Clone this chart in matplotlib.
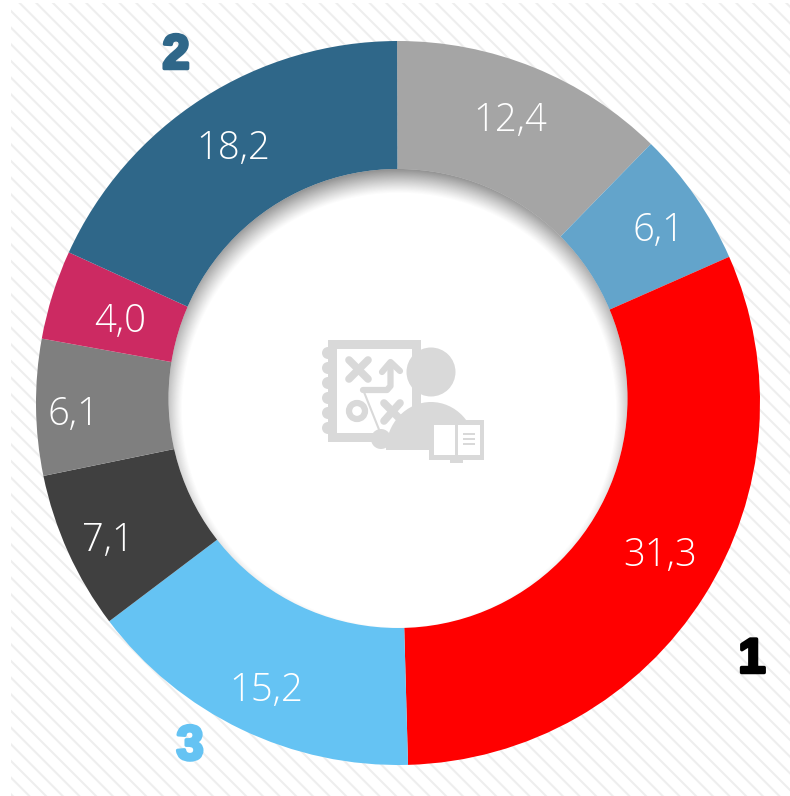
import numpy as np
import matplotlib
matplotlib.use("Agg")
import matplotlib.pyplot as plt
import matplotlib.patheffects as pe
from matplotlib.patches import Circle, Rectangle, Ellipse

# Datos del anillo, en sentido horario desde arriba
valores = [12.4, 6.1, 31.3, 15.2, 7.1, 6.1, 4.0, 18.2]
colores = ["#a5a5a5", "#63a4cb", "#ff0000", "#65c3f3", "#404040", "#7f7f7f", "#cc2a62", "#2f6789"]
puestos = ["1", "2", "3"]
colores_puestos = ["#000000", "#2f6789", "#65c3f3"]

ANCHO, ALTO = 790, 796
CX, CY = 398, 403
R_EXT = 362
# el hueco no es concéntrico: está un poco más arriba que el anillo
HX, HY, R_HUECO = 398, 398.5, 229.5
GRIS_ICONO = "#d9d9d9"


def Y(py):
    # coordenadas de pixel con origen arriba
    return ALTO - py


plt.rcParams["hatch.linewidth"] = 1.5
fig = plt.figure(figsize=(ANCHO / 100, ALTO / 100), dpi=100, facecolor="white")
ax = fig.add_axes([0, 0, 1, 1])

# Fondo rayado
ax.add_patch(Rectangle((11, 0), ANCHO - 11, Y(3), facecolor="white", edgecolor="#eeeeee",
                       hatch="\\\\", linewidth=0, zorder=0))

# Anillo
cunas, _ = ax.pie(valores, colors=colores, startangle=90.15, counterclock=False,
                  center=(CX, Y(CY)), radius=R_EXT,
                  wedgeprops={"width": R_EXT - 200, "linewidth": 0, "zorder": 2})

# Hueco blanco con sombra interior
ax.add_patch(Circle((HX, Y(HY)), R_HUECO, facecolor="white", edgecolor="none", zorder=2.5))
xs = np.arange(HX - 235, HX + 235)
ys = np.arange(HY - 235, HY + 235)
gx, gy = np.meshgrid(xs, ys)
dist = np.hypot(gx - (HX + 1), gy - (HY + 12))
borde = np.clip((dist - 217) / 24.5, 0, 1)
sombra = np.zeros(gx.shape + (4,))
sombra[..., :3] = 0.32
sombra[..., 3] = 0.64 * borde ** 1.15
im = ax.imshow(sombra, extent=(xs[0], xs[-1], Y(ys[-1]), Y(ys[0])), origin="upper", zorder=2.6,
               interpolation="bilinear")
im.set_clip_path(Circle((HX, Y(HY)), R_HUECO, transform=ax.transData))

# Etiquetas de valor: desplazamientos a mano respecto al centro de cada cuña
ajustes = [(1, 9), (18, 4), (13, 5), (-4, -22), (-21, -16), (-30, -8), (4, -7), (-5, 6)]
for cuna, v, aj in zip(cunas, valores, ajustes):
    ang = np.radians((cuna.theta1 + cuna.theta2) / 2)
    px = CX + 295 * np.cos(ang)
    py = Y(CY) + 295 * np.sin(ang)
    ax.annotate(f"{v:.1f}".replace(".", ","), (px, py), xytext=aj, textcoords="offset pixels",
                color="white", fontsize=27.5, family="Open Sans", weight=300,
                ha="center", va="center", zorder=5)

# Puestos 1, 2 y 3
pos_puestos = [(752, 660), (176, 56), (190, 747)]
for txt, col, (px, py) in zip(puestos, colores_puestos, pos_puestos):
    ax.text(px, Y(py), txt, color=col, fontsize=35, family="Liberation Sans", weight="bold",
            ha="center", va="center", zorder=5,
            path_effects=[pe.withStroke(linewidth=2.5, foreground=col)])


# Icono central
def linea(puntos, lw=5.5, color=GRIS_ICONO, z=4):
    xx = [p[0] for p in puntos]
    yy = [Y(p[1]) for p in puntos]
    ax.plot(xx, yy, color=color, lw=lw, solid_capstyle="round", solid_joinstyle="round", zorder=z)


def rect(x0, y0, x1, y1, color=GRIS_ICONO, z=3):
    ax.add_patch(Rectangle((x0, Y(y1)), x1 - x0, y1 - y0, facecolor=color, edgecolor="none", zorder=z))


# cuaderno
rect(328, 340, 421, 442)
rect(337, 349, 412, 433, color="white", z=3.1)
for py in [353, 368, 383, 398, 413, 428]:
    ax.add_patch(Circle((328, Y(py)), 6, facecolor=GRIS_ICONO, edgecolor="none", zorder=3))
# esquema de jugada
linea([(349, 360), (368, 379)])
linea([(368, 360), (349, 379)])
linea([(384, 403), (402, 421)])
linea([(400, 403), (384, 421)])
linea([(363, 390), (387, 390), (390.5, 386), (390.5, 364)], lw=4.5)
linea([(382, 372), (390.5, 362), (400, 371)], lw=4.5)
ax.add_patch(Circle((357, Y(411)), 8, facecolor="none", edgecolor=GRIS_ICONO, lw=4.5, zorder=4))
linea([(364, 392), (380, 432)], lw=1.5)
# persona
ax.add_patch(Circle((431, Y(372)), 24.5, facecolor=GRIS_ICONO, edgecolor="none", zorder=4))
cuerpo = Ellipse((431, Y(450)), 90, 96, facecolor=GRIS_ICONO, edgecolor="none", zorder=3.5)
ax.add_patch(cuerpo)
cuerpo.set_clip_path(Rectangle((380, Y(450)), 100, 60, transform=ax.transData))
ax.add_patch(Circle((381, Y(439)), 10, facecolor=GRIS_ICONO, edgecolor="none", zorder=4))
# libro
rect(429, 420, 484, 460, color=GRIS_ICONO, z=4.2)
rect(434, 425, 455, 455, color="white", z=4.3)
rect(458, 425, 480, 455, color="white", z=4.3)
for py in [434, 439, 444]:
    rect(463, py - 1, 475, py + 1, z=4.4)
rect(450, 460, 463, 463, z=4.2)

ax.set_xlim(0, ANCHO)
ax.set_ylim(0, ALTO)
ax.set_aspect("auto")
ax.axis("off")

fig.savefig("out.png", dpi=100)
